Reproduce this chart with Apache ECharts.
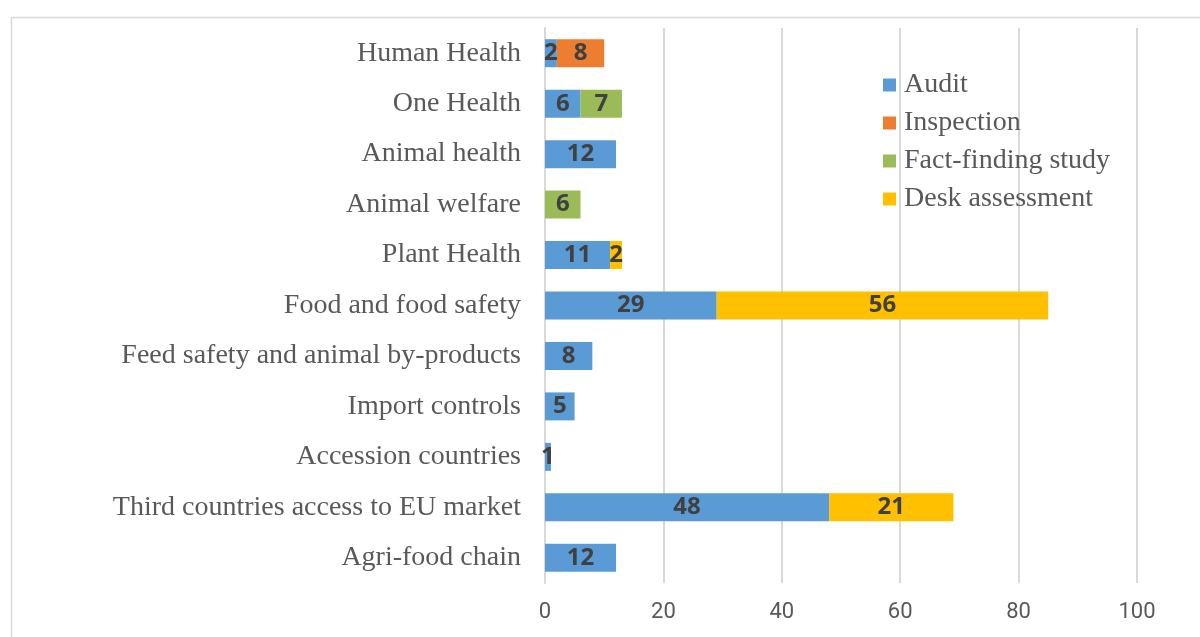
<!DOCTYPE html>
<html>
<head>
<meta charset="utf-8">
<script src="https://cdn.jsdelivr.net/npm/echarts@6/dist/echarts.min.js"></script>
<style>
  html, body { margin: 0; padding: 0; background: #fff; }
  #chart { width: 1200px; height: 637px; }
</style>
</head>
<body>
<div id="chart"></div>
<script>
// categories bottom to top (as drawn on the y axis)
const categories = [
  'Agri-food chain',
  'Third countries access to EU market',
  'Accession countries',
  'Import controls',
  'Feed safety and animal by-products',
  'Food and food safety',
  'Plant Health',
  'Animal welfare',
  'Animal health',
  'One Health',
  'Human Health'
]

const audit = [12, 48, 1, 5, 8, 29, 11, 0, 12, 6, 2]
const inspection = [0, 0, 0, 0, 0, 0, 0, 0, 0, 0, 8]
const factFinding = [0, 0, 0, 0, 0, 0, 0, 6, 0, 7, 0]
const deskAssessment = [0, 21, 0, 0, 0, 56, 2, 0, 0, 0, 0]

const xTicks = [0, 20, 40, 60, 80, 100]

const seriesNames = ['Audit', 'Inspection', 'Fact-finding study', 'Desk assessment']
const seriesColors = ['#5B9BD5', '#ED7D31', '#9BBB59', '#FFC000']
const seriesData = [audit, inspection, factFinding, deskAssessment]

const chart = echarts.init(document.getElementById('chart'))

const serifFont = '"Liberation Serif", "DejaVu Serif", serif'

const option = {
  animation: false,
  backgroundColor: '#fff',
  graphic: [
    {
      type: 'rect',
      left: 9,
      top: 15,
      shape: { width: 1200, height: 640 },
      style: { fill: 'none', stroke: '#D9D9D9', lineWidth: 1.5 },
      z: -1
    }
  ],
  legend: {
    data: seriesNames,
    orient: 'vertical',
    left: 878,
    top: 66,
    itemWidth: 13,
    itemHeight: 13,
    itemGap: 10,
    icon: 'rect',
    textStyle: {
      fontFamily: serifFont,
      fontSize: 28,
      color: '#595959',
      padding: [0, 0, 0, 3]
    }
  },
  grid: {
    left: 545,
    right: 63,
    top: 28,
    bottom: 54,
    containLabel: false
  },
  xAxis: {
    type: 'value',
    min: xTicks[0],
    max: xTicks[xTicks.length - 1],
    interval: 20,
    axisLine: { show: false },
    axisTick: { show: false },
    splitLine: { lineStyle: { color: '#D9D9D9', width: 2 } },
    axisLabel: {
      fontFamily: 'Roboto, "Open Sans", sans-serif',
      fontSize: 22,
      color: '#595959',
      margin: 18
    }
  },
  yAxis: {
    type: 'category',
    data: categories,
    axisLine: { lineStyle: { color: '#D9D9D9', width: 2 } },
    axisTick: { show: false },
    axisLabel: {
      fontFamily: serifFont,
      fontSize: 28,
      color: '#595959',
      margin: 24
    }
  },
  series: seriesNames.map((name, i) => ({
    name: name,
    type: 'bar',
    stack: 'total',
    barWidth: 28,
    data: seriesData[i],
    itemStyle: { color: seriesColors[i] },
    label: {
      show: true,
      position: 'inside',
      fontFamily: '"Open Sans", Roboto, sans-serif',
      fontWeight: 'bold',
      fontSize: 24,
      color: '#404040',
      formatter: (p) => (p.value ? String(p.value) : '')
    }
  }))
}

chart.setOption(option)
</script>
</body>
</html>
